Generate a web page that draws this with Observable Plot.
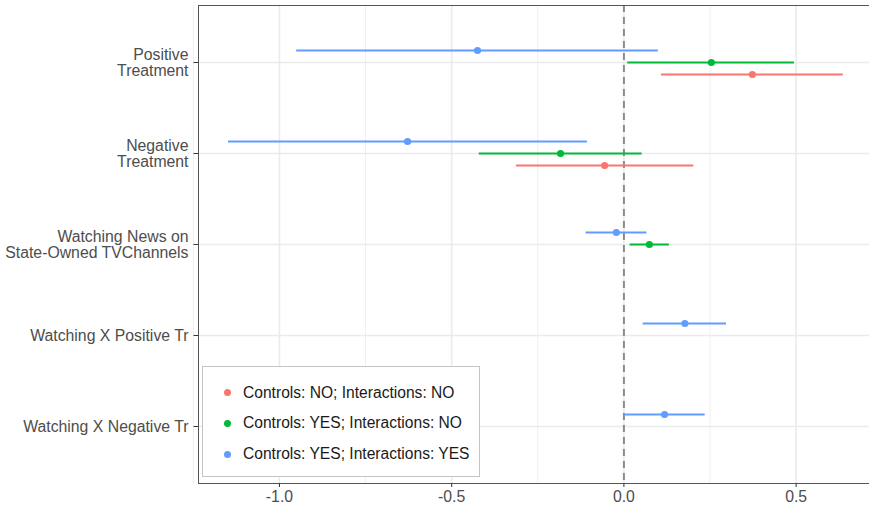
<!DOCTYPE html>
<html>
<head>
<meta charset="utf-8">
<script src="https://cdn.jsdelivr.net/npm/d3@7"></script>
<script src="https://cdn.jsdelivr.net/npm/@observablehq/plot@0.6"></script>
<style>
  html, body { margin: 0; padding: 0; background: #fff; }
  #wrap { position: relative; width: 869px; height: 505px; font-family: "Liberation Sans", Arial, sans-serif; }
  #legend { position: absolute; left: 202px; top: 366px; width: 276px; height: 109px; background: #fff; border: 1.5px solid #c4c4c4; }
  .lrow { position: absolute; left: 0; height: 20px; display: flex; align-items: center; font-size: 15.6px; color: #1a1a1a; white-space: nowrap; }
  .ldot { width: 7px; height: 7px; border-radius: 50%; margin-left: 20.5px; margin-right: 12.5px; }
</style>
</head>
<body>
<div id="wrap"></div>
<script>
// ---- data ----
const terms = [
  "Positive\nTreatment",
  "Negative\nTreatment",
  "Watching News on\nState-Owned TVChannels",
  "Watching X Positive Tr",
  "Watching X Negative Tr"
];
const models = [
  "Controls: NO; Interactions: NO",
  "Controls: YES; Interactions: NO",
  "Controls: YES; Interactions: YES"
];
// estimates and 95% CI per model (null = not in model)
const estNoNo   = [0.373, -0.056, null, null, null];
const loNoNo    = [0.109, -0.312, null, null, null];
const hiNoNo    = [0.637,  0.203, null, null, null];
const estYesNo  = [0.254, -0.184, 0.074, null, null];
const loYesNo   = [0.011, -0.420, 0.018, null, null];
const hiYesNo   = [0.495,  0.053, 0.132, null, null];
const estYesYes = [-0.425, -0.628, -0.022, 0.177, 0.118];
const loYesYes  = [-0.950, -1.148, -0.110, 0.056, 0.001];
const hiYesYes  = [ 0.100, -0.106,  0.067, 0.298, 0.236];
const xTicks = [-1.0, -0.5, 0.0, 0.5];
const xMinor = [-1.25, -0.75, -0.25, 0.25, 0.75];

// ---- styling ----
const colors = ["#F8766D", "#00BA38", "#619CFF"];
const dodge = [12, 0, -12];

const series = [
  [estNoNo, loNoNo, hiNoNo],
  [estYesNo, loYesNo, hiYesNo],
  [estYesYes, loYesYes, hiYesYes]
];
const rows = [];
series.forEach(([e, l, h], i) => {
  terms.forEach((t, j) => {
    if (e[j] != null) rows.push({term: t, model: models[i], mi: i, est: e[j], lo: l[j], hi: h[j]});
  });
});

const seriesMarks = [];
models.forEach((m, i) => {
  const d = rows.filter(r => r.mi === i);
  seriesMarks.push(Plot.ruleY(d, {y: "term", x1: "lo", x2: "hi", stroke: colors[i], strokeWidth: 2, dy: dodge[i]}));
  seriesMarks.push(Plot.dot(d, {y: "term", x: "est", fill: colors[i], r: 3.6, dy: dodge[i]}));
});

const chart = Plot.plot({
  width: 869,
  height: 505,
  marginLeft: 198,
  marginRight: 0,
  marginTop: 5,
  marginBottom: 22,
  style: {fontFamily: "'Liberation Sans', Arial, sans-serif", fontSize: "15.8px", color: "#4d4d4d", background: "#fff"},
  x: {domain: [-1.235, 0.713]},
  y: {domain: terms, type: "point", padding: 0.6},
  marks: [
    Plot.ruleX(xMinor, {stroke: "#efefef", strokeWidth: 1}),
    Plot.ruleX(xTicks, {stroke: "#ebebeb", strokeWidth: 1.6}),
    Plot.ruleY(terms, {y: d => d, stroke: "#ebebeb", strokeWidth: 1.6}),
    Plot.ruleX([0], {stroke: "#8c8c8c", strokeWidth: 2, strokeDasharray: "7,5"}),
    ...seriesMarks,
    Plot.frame({stroke: "#555", strokeWidth: 1}),
    Plot.axisX(xTicks, {tickSize: 4, tickPadding: 3, stroke: "#333", fill: "#4d4d4d", tickFormat: d => d.toFixed(1), label: null}),
    Plot.axisY({tickSize: 4.5, tickPadding: 5.5, stroke: "#333", fill: "#4d4d4d", lineHeight: 1.06, label: null})
  ]
});

const wrap = document.getElementById("wrap");
wrap.appendChild(chart);

const legend = document.createElement("div");
legend.id = "legend";
models.forEach((m, i) => {
  const row = document.createElement("div");
  row.className = "lrow";
  row.style.top = (15.5 + i * 30.8) + "px";
  const dot = document.createElement("span");
  dot.className = "ldot";
  dot.style.background = colors[i];
  const txt = document.createElement("span");
  txt.textContent = m;
  row.appendChild(dot);
  row.appendChild(txt);
  legend.appendChild(row);
});
wrap.appendChild(legend);
</script>
</body>
</html>
